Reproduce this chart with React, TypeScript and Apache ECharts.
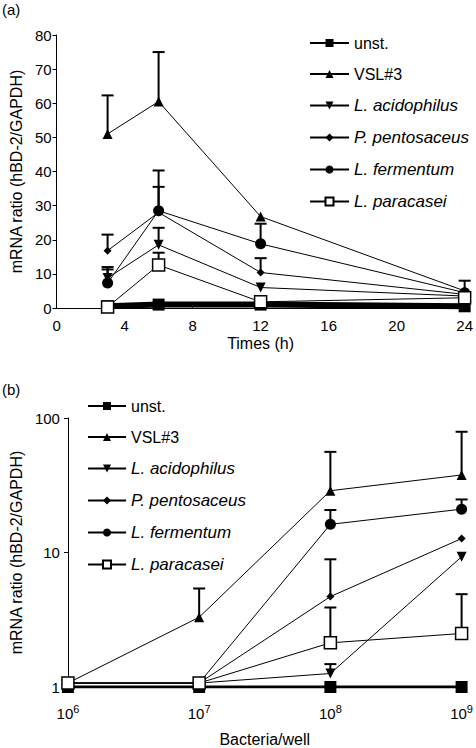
import React, { useEffect, useRef } from "react";
import * as echarts from "echarts";

const seriesNames = ["unst.", "VSL#3", "L. acidophilus", "P. pentosaceus", "L. fermentum", "L. paracasei"];
const italicNames = ["L. acidophilus", "P. pentosaceus", "L. fermentum", "L. paracasei"];

// Panel (a): time course
const timesA = [3, 6, 12, 24];
const unstA = [0.5, 1, 1, 0.5];
const vslA = [51, 60.5, 26.8, 5];
const acidoA = [8.8, 18.5, 6, 3.5];
const pentoA = [16.8, 28, 10.4, 4];
const fermA = [7.3, 28.5, 18.8, 4.5];
const paraA = [0.3, 12.6, 1.8, 3];
const vslAErr = [62.3, 75, null, 8];
const acidoAErr = [11.3, 23.5, null, null];
const pentoAErr = [21.5, 35.5, 14.6, null];
const fermAErr = [12, 40.3, 24.7, null];
const paraAErr = [null, 16.2, null, null];
const unstAErr = [null, null, null, null];

// Panel (b): dose response
const doseB = [1e6, 1e7, 1e8, 1e9];
const unstB = [1, 1, 1, 1];
const vslB = [1.07, 3.3, 28.8, 37.7];
const acidoB = [1.07, 1.07, 1.26, 9.3];
const pentoB = [1.07, 1.07, 4.7, 12.7];
const fermB = [1.07, 1.07, 16.2, 21];
const paraB = [1.07, 1.07, 2.13, 2.5];
const vslBErr = [null, 5.4, 56, 79];
const acidoBErr = [null, null, 1.48, null];
const pentoBErr = [null, null, 8.9, null];
const fermBErr = [null, null, 20.7, 24.8];
const paraBErr = [null, null, 3.9, 4.9];
const unstBErr = [null, null, null, null];

const FONT = "Liberation Sans, Arial, sans-serif";
const TICK_FS = 15;
const NAME_FS = 16;
const LEG_FS = 16;
const LEG_IT_FS = 17;

const symbols: Record<string, any> = {
  "unst.": { symbol: "rect", size: 12 },
  "VSL#3": { symbol: "triangle", size: 10 },
  "L. acidophilus": { symbol: "path://M0,0L10,0L5,9Z", size: 10 },
  "P. pentosaceus": { symbol: "diamond", size: 8 },
  "L. fermentum": { symbol: "circle", size: 11 },
  "L. paracasei": { symbol: "rect", size: 12 },
};

export default function App() {
  const ref = useRef<HTMLDivElement>(null);
  useEffect(() => {
    if (!ref.current) return;
    const chart = echarts.init(ref.current, null, { renderer: "svg" });

    const valsA = [unstA, vslA, acidoA, pentoA, fermA, paraA];
    const errsA = [unstAErr, vslAErr, acidoAErr, pentoAErr, fermAErr, paraAErr];
    const valsB = [unstB, vslB, acidoB, pentoB, fermB, paraB];
    const errsB = [unstBErr, vslBErr, acidoBErr, pentoBErr, fermBErr, paraBErr];

    const errRender = (params: any, api: any) => {
      const x = api.value(0);
      const y = api.value(1);
      const e = api.value(2);
      const p1 = api.coord([x, y]);
      const p2 = api.coord([x, e]);
      const st = { stroke: "#000", lineWidth: 2 };
      return {
        type: "group",
        children: [
          { type: "line", shape: { x1: p1[0], y1: p1[1], x2: p2[0], y2: p2[1] }, style: st },
          { type: "line", shape: { x1: p2[0] - 6, y1: p2[1], x2: p2[0] + 6, y2: p2[1] }, style: st },
        ],
      };
    };

    const series: any[] = [];
    const build = (xs: number[], vals: number[][], errs: (number | null)[][], gi: number, unstWidth: number) => {
      seriesNames.forEach((name, i) => {
        const errData: any[] = [];
        xs.forEach((x, j) => {
          const e = errs[i][j];
          if (e !== null && e !== undefined) errData.push([x, vals[i][j], e]);
        });
        if (errData.length) {
          series.push({
            type: "custom",
            xAxisIndex: gi,
            yAxisIndex: gi,
            renderItem: errRender,
            data: errData,
            encode: { x: 0, y: [1, 2] },
            z: 1,
            silent: true,
            tooltip: { show: false },
          });
        }
        const open = name === "L. paracasei";
        series.push({
          type: "line",
          name,
          xAxisIndex: gi,
          yAxisIndex: gi,
          data: xs.map((x, j) => [x, vals[i][j]]),
          symbol: symbols[name].symbol,
          symbolSize: symbols[name].size,
          showAllSymbol: true,
          lineStyle: { color: "#000", width: name === "unst." ? unstWidth : 1 },
          itemStyle: open
            ? { color: "#fff", borderColor: "#000", borderWidth: 1.5 }
            : { color: "#000", borderColor: "#000", borderWidth: 0 },
          z: name === "unst." ? 3 : 4,
        });
      });
    };
    build(timesA, valsA, errsA, 0, 6);
    build(doseB, valsB, errsB, 1, 3);

    const legendCommon = {
      data: seriesNames,
      orient: "vertical",
      itemWidth: 39,
      itemHeight: 10,
      itemGap: 15,
      selectedMode: false,
      formatter: (n: string) => (italicNames.includes(n) ? `{i|${n}}` : `{r|${n}}`),
      textStyle: {
        fontFamily: FONT,
        fontSize: LEG_FS,
        color: "#000",
        rich: {
          i: { fontStyle: "italic", fontFamily: FONT, fontSize: LEG_IT_FS, lineHeight: 16, color: "#000" },
          r: { fontFamily: FONT, fontSize: LEG_FS, lineHeight: 16, color: "#000" },
        },
      },
    };

    const axisCommon = {
      axisLine: { lineStyle: { color: "#000", width: 1 } },
      axisTick: { lineStyle: { color: "#000", width: 1 }, length: 4 },
      axisLabel: { color: "#000", fontFamily: FONT, fontSize: TICK_FS },
      splitLine: { show: false },
      nameTextStyle: { color: "#000", fontFamily: FONT, fontSize: NAME_FS },
    };

    chart.setOption({
      animation: false,
      backgroundColor: "#fff",
      textStyle: { fontFamily: FONT },
      graphic: [
        { type: "text", left: 2, top: 2, style: { text: "(a)", fontFamily: FONT, fontSize: 15, fill: "#000" } },
        { type: "text", left: 2, top: 382, style: { text: "(b)", fontFamily: FONT, fontSize: 15, fill: "#000" } },
      ],
      grid: [
        { left: 52, right: 6, top: 35, height: 273 },
        { left: 57, right: 13, top: 418, height: 269 },
      ],
      legend: [
        { ...legendCommon, left: 304, top: 30 },
        { ...legendCommon, left: 82, top: 393, itemWidth: 38, itemGap: 15 },
      ],
      xAxis: [
        {
          ...axisCommon,
          gridIndex: 0,
          type: "value",
          min: 0,
          max: 24,
          interval: 4,
          axisTick: { ...axisCommon.axisTick, inside: true },
          axisLabel: { ...axisCommon.axisLabel, margin: 10 },
          name: "Times (h)",
          nameLocation: "middle",
          nameGap: 27,
        },
        {
          ...axisCommon,
          gridIndex: 1,
          type: "log",
          logBase: 10,
          min: 1e6,
          max: 1e9,
          axisTick: { ...axisCommon.axisTick, inside: true },
          axisLabel: {
            ...axisCommon.axisLabel,
            margin: 16,
            formatter: (v: number) => `{b|10}{s|${Math.round(Math.log10(v))}}`,
            rich: {
              b: { fontFamily: FONT, fontSize: TICK_FS, color: "#000", lineHeight: 18, verticalAlign: "bottom" },
              s: { fontFamily: FONT, fontSize: 11, color: "#000", lineHeight: 18, verticalAlign: "top", padding: [0, 0, 8, 0] },
            },
          },
          name: "Bacteria/well",
          nameLocation: "middle",
          nameGap: 44,
        },
      ],
      yAxis: [
        {
          ...axisCommon,
          gridIndex: 0,
          type: "value",
          min: 0,
          max: 80,
          interval: 10,
          axisLabel: { ...axisCommon.axisLabel, margin: 5 },
          name: "mRNA ratio (hBD-2/GAPDH)",
          nameLocation: "middle",
          nameGap: 32,
        },
        {
          ...axisCommon,
          gridIndex: 1,
          type: "log",
          logBase: 10,
          min: 1,
          max: 100,
          axisLabel: { ...axisCommon.axisLabel, margin: 8 },
          name: "mRNA ratio (hBD-2/GAPDH)",
          nameLocation: "middle",
          nameGap: 39,
        },
      ],
      series,
    });
    return () => chart.dispose();
  }, []);
  return (
    <div
      ref={ref}
      style={{ position: "fixed", left: 0, top: 0, width: 476, height: 748, background: "#fff" }}
    />
  );
}
